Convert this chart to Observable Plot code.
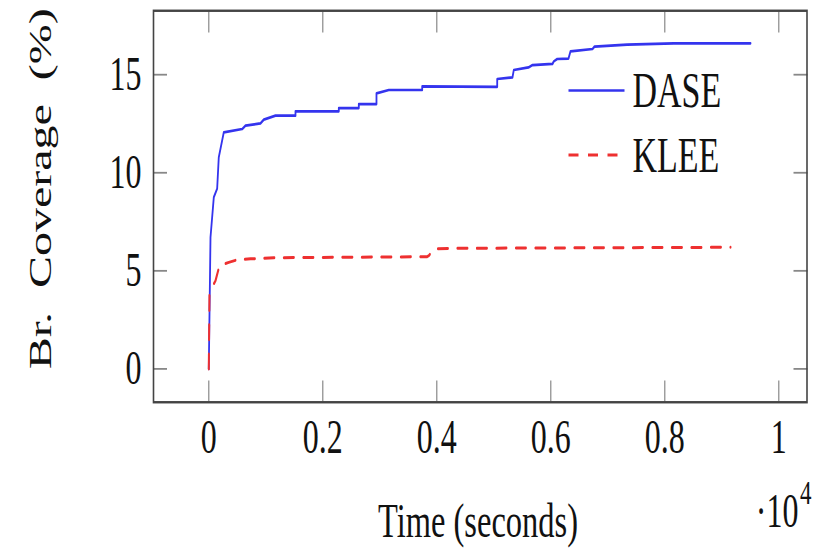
<!DOCTYPE html>
<html>
<head>
<meta charset="utf-8">
<script src="https://cdn.jsdelivr.net/npm/d3@7"></script>
<script src="https://cdn.jsdelivr.net/npm/@observablehq/plot@0.6"></script>
<style>
  html, body { margin: 0; padding: 0; background: #fff; }
  #chart svg { display: block; }
</style>
</head>
<body>
<div id="chart"></div>
<script>
// ---- data ----
const daseTime = [0, 30, 88, 147, 175, 263, 586, 644, 907, 965, 1170, 1521, 1521, 2281, 2281, 2632, 2632, 2942, 2942, 3158, 3744, 3744, 5060, 5060, 5328, 5351, 5609, 5679, 6030, 6053, 6112, 6311, 6346, 6732, 6767, 7340, 8158, 9504];
const daseCov  = [0, 6.71, 8.75, 9.19, 10.78, 12.06, 12.23, 12.40, 12.52, 12.71, 12.91, 12.91, 13.13, 13.13, 13.30, 13.30, 13.50, 13.50, 14.05, 14.22, 14.22, 14.40, 14.38, 14.78, 14.86, 15.24, 15.37, 15.49, 15.55, 15.68, 15.80, 15.82, 16.19, 16.31, 16.43, 16.53, 16.60, 16.60];
const kleeTime = [0, 12, 118, 188, 351, 498, 732, 1140, 2311, 3832, 3860, 3947, 4416, 9153];
const kleeCov  = [0, 3.9, 4.5, 5.27, 5.43, 5.56, 5.61, 5.67, 5.69, 5.72, 5.77, 6.12, 6.15, 6.20];

const xTicks = [0, 2000, 4000, 6000, 8000, 10000];
const xTickLabels = ["0", "0.2", "0.4", "0.6", "0.8", "1"];
const yTicks = [0, 5, 10, 15];
const seriesNames = ["DASE", "KLEE"];
const seriesColors = ["#3434ee", "#ee3030"];
const xLabel = "Time (seconds)";
const yLabel = "Br.  Coverage  (%)";
const xMultiplier = "·10";
const xExponent = "4";

// ---- layout ----
const W = 821, H = 548, S = 1.5;   // reference is stretched vertically
const HL = H / S;
const FONT = "'Liberation Serif', 'DejaVu Serif', serif";
const frameL = 153, frameR = 806.5, frameT = 10 / S, frameB = 401.5 / S;

const dase = daseTime.map((t, i) => ({t, c: daseCov[i]}));
const klee = kleeTime.map((t, i) => ({t, c: kleeCov[i]}));

const plot = Plot.plot({
  width: W,
  height: HL,
  marginLeft: frameL,
  marginRight: W - frameR,
  marginTop: frameT,
  marginBottom: HL - frameB,
  style: {fontFamily: FONT, fontSize: "32px", color: "#111", background: "#fff", overflow: "visible"},
  x: {domain: [-970, 10495]},
  y: {domain: [-1.70, 18.26]},
  marks: [
    Plot.line(dase, {x: "t", y: "c", stroke: seriesColors[0], strokeWidth: 1.8}),
    Plot.line(klee, {x: "t", y: "c", stroke: seriesColors[1], strokeWidth: 2, strokeDasharray: "10,9.5"}),
    Plot.axisX({ticks: xTicks, anchor: "bottom", tickSize: -14, fill: "none", stroke: "#888", strokeWidth: 1.2, label: null}),
    Plot.axisX({ticks: xTicks, anchor: "top", tickSize: -14, fill: "none", stroke: "#888", strokeWidth: 1.2, label: null}),
    Plot.axisX({ticks: xTicks, anchor: "bottom", tickSize: 0, tickPadding: 11, fontSize: 32,
                tickFormat: d => xTickLabels[xTicks.indexOf(d)], label: null}),
    Plot.axisY({ticks: yTicks, anchor: "left", tickSize: -14, fill: "none", stroke: "#888", strokeWidth: 1.2, label: null}),
    Plot.axisY({ticks: yTicks, anchor: "right", tickSize: -14, fill: "none", stroke: "#888", strokeWidth: 1.2, label: null}),
    Plot.axisY({ticks: yTicks, anchor: "left", tickSize: 0, tickPadding: 12, fontSize: 32, label: null}),
    Plot.frame({stroke: "#444", strokeWidth: 1.6}),
    Plot.text([xLabel], {text: d => d, frameAnchor: "bottom", textAnchor: "middle", lineAnchor: "middle",
                         dx: 477.5 - (frameL + frameR) / 2, dy: 521 / S - frameB, fontSize: 32.5, fill: "#111"}),
    Plot.text([yLabel], {text: d => d, frameAnchor: "left", textAnchor: "middle", lineAnchor: "middle", rotate: -90,
                         dx: 40.5 - frameL, dy: 188 / S - (frameT + frameB) / 2, fontSize: 32, fill: "#111"}),
    Plot.text([xMultiplier], {text: d => d, frameAnchor: "bottom-right", textAnchor: "end", lineAnchor: "middle",
                              dx: 798 - frameR, dy: 511 / S - frameB, fontSize: 32, fill: "#111"}),
    Plot.text([xExponent], {text: d => d, frameAnchor: "bottom-right", textAnchor: "start", lineAnchor: "middle",
                            dx: 799.5 - frameR, dy: 492.5 / S - frameB, fontSize: 23, fill: "#111"})
  ]
});

// legend (inside the plot, upper right)
const legendX = 568.5, legendLen = 56, legendY0 = 90.5 / S, legendGap = 64.5 / S;
const svg = d3.select(plot);
const lg = svg.append("g").attr("font-family", FONT).attr("font-size", 34).attr("text-anchor", "start");
seriesNames.forEach((name, i) => {
  const yy = legendY0 + i * legendGap;
  lg.append("line")
    .attr("x1", legendX).attr("x2", legendX + legendLen)
    .attr("y1", yy).attr("y2", yy)
    .attr("stroke", seriesColors[i])
    .attr("stroke-width", i === 0 ? 1.8 : 2)
    .attr("stroke-dasharray", i === 0 ? null : "10,9.5");
  lg.append("text")
    .attr("x", legendX + legendLen + 8).attr("y", yy)
    .attr("dy", "0.33em")
    .attr("text-anchor", "start")
    .attr("fill", "#111")
    .text(name);
});

// stretch vertically like the reference
plot.setAttribute("preserveAspectRatio", "none");
plot.setAttribute("width", W);
plot.setAttribute("height", H);
plot.style.width = W + "px";
plot.style.height = H + "px";
plot.style.maxWidth = "none";

document.getElementById("chart").appendChild(plot);
</script>
</body>
</html>
